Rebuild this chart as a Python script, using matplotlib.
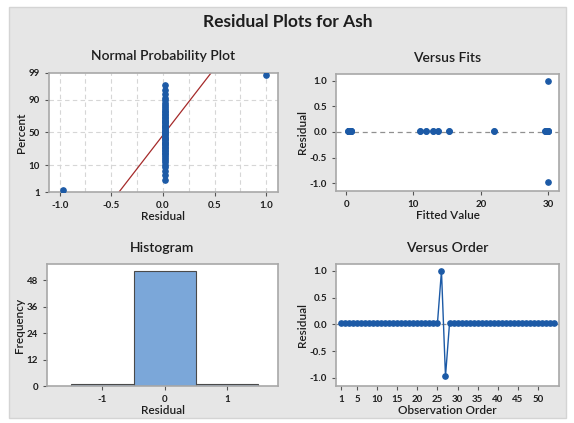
import numpy as np
import matplotlib
matplotlib.use("Agg")
import matplotlib.pyplot as plt
from matplotlib.patches import Rectangle
from statistics import NormalDist

plt.rcParams['font.family'] = ['Lato', 'DejaVu Sans']
plt.rcParams['axes.unicode_minus'] = False

# residuals in observation order (54 obs)
residuals = [0.02, 0.02, 0.02, 0.02, 0.02, 0.02, 0.02, 0.02, 0.02, 0.02,
             0.02, 0.02, 0.02, 0.02, 0.02, 0.02, 0.02, 0.02, 0.02, 0.02,
             0.02, 0.02, 0.02, 0.02, 0.02, 1.00, -0.97, 0.02, 0.02, 0.02,
             0.02, 0.02, 0.02, 0.02, 0.02, 0.02, 0.02, 0.02, 0.02, 0.02,
             0.02, 0.02, 0.02, 0.02, 0.02, 0.02, 0.02, 0.02, 0.02, 0.02,
             0.02, 0.02, 0.02, 0.02]
fitted = [0.4, 0.5, 0.6, 0.3, 0.7, 0.5, 0.8, 0.4, 0.6, 0.5,
          11.0, 11.9, 12.9, 13.6, 15.3, 22.0, 29.5, 29.8, 30.0, 29.7,
          29.9, 29.6, 30.0, 29.8, 29.9, 30.0, 30.0, 0.5, 0.4, 0.6,
          0.7, 0.3, 0.5, 0.6, 0.4, 0.8, 0.5, 0.6, 11.0, 11.9,
          12.9, 13.6, 15.3, 22.0, 29.5, 29.8, 29.9, 29.7, 0.5, 0.6,
          0.4, 0.7, 0.5, 0.6]
hist_bins = [-1, 0, 1]
hist_counts = [1, 52, 1]

blue = '#1c5aa6'
spine_c = '#a8a8a8'
txt_c = '#1e1e1e'

W, H = 574, 423
fig = plt.figure(figsize=(W / 100, H / 100), dpi=100)
fig.patch.set_facecolor('white')
fig.patches.append(Rectangle((9 / W, 1 - 418 / H), 557 / W, 411 / H, transform=fig.transFigure,
                             facecolor='#e6e6e6', edgecolor='#d4d4d4', lw=1, zorder=-10))

def box(l, t, r, b):
    return [l / W, 1 - b / H, (r - l) / W, (b - t) / H]

def style(ax):
    for s in ax.spines.values():
        s.set_color(spine_c)
        s.set_linewidth(1.2)
    ax.tick_params(colors='#555555', labelcolor=txt_c, labelsize=7, length=3, width=0.8, direction='out')
    for lab in ax.get_xticklabels() + ax.get_yticklabels():
        lab.set_fontweight('bold')

def label(ax, title, xl, yl):
    ax.set_title(title, fontsize=10, color=txt_c, pad=9, fontweight='semibold')
    ax.set_xlabel(xl, fontsize=8.5, color=txt_c, labelpad=1, fontweight='semibold')
    ax.set_ylabel(yl, fontsize=8.5, color=txt_c, labelpad=1, fontweight='semibold')

fig.text(288 / W, 1 - 22 / H, 'Residual Plots for Ash', ha='center', va='center',
         fontsize=12.5, color=txt_c, fontweight='bold')

nd = NormalDist()
r = np.array(residuals)
n = len(r)

# Normal probability plot
ax1 = fig.add_axes(box(49, 73, 278, 192))
xs = np.sort(r)
pp = (np.arange(1, n + 1) - 0.3) / (n + 0.4)
zs = [nd.inv_cdf(p) for p in pp]
mu, sd = r.mean(), r.std(ddof=1)
lx = np.array([-1.2, 1.2])
ax1.plot(lx, (lx - mu) / sd, color='#a52a2a', lw=0.9, zorder=2)
ax1.plot(xs, zs, 'o', color=blue, ms=3.8, zorder=3)
pticks = [1, 10, 50, 90, 99]
ax1.set_yticks([nd.inv_cdf(p / 100) for p in pticks])
ax1.set_yticklabels([str(p) for p in pticks])
ax1.set_ylim(nd.inv_cdf(0.01), nd.inv_cdf(0.99))
ax1.set_xlim(-1.103, 1.113)
ax1.set_xticks([-1.0, -0.5, 0.0, 0.5, 1.0])
ax1.set_xticklabels(['-1.0', '-0.5', '0.0', '0.5', '1.0'])
for gx in np.arange(-1.0, 1.01, 0.25):
    ax1.axvline(gx, color='#d6d6d6', ls=(0, (4, 3)), lw=0.8, zorder=1)
for p in [10, 50, 90]:
    ax1.axhline(nd.inv_cdf(p / 100), color='#d6d6d6', ls=(0, (4, 3)), lw=0.8, zorder=1)
style(ax1)
label(ax1, 'Normal Probability Plot', 'Residual', 'Percent')

# Versus fits
ax2 = fig.add_axes(box(336, 74, 559, 191))
ax2.axhline(0, color='#909090', ls=(0, (4, 3)), lw=0.9, zorder=1)
ax2.plot(fitted, residuals, 'o', color=blue, ms=3.8, zorder=3)
ax2.set_xlim(-1.5, 31.6)
ax2.set_ylim(-1.15, 1.13)
ax2.set_xticks([0, 10, 20, 30])
ax2.set_yticks([-1.0, -0.5, 0.0, 0.5, 1.0])
style(ax2)
label(ax2, 'Versus Fits', 'Fitted Value', 'Residual')

# Histogram
ax3 = fig.add_axes(box(47, 264, 278, 386))
ax3.bar(hist_bins, hist_counts, width=1.0, color='#7ba7d9', edgecolor='#4a4a4a', lw=0.8)
ax3.set_xlim(-1.89, 1.82)
ax3.set_ylim(0, 55.3)
ax3.set_xticks([-1, 0, 1])
ax3.set_yticks([0, 12, 24, 36, 48])
style(ax3)
label(ax3, 'Histogram', 'Residual', 'Frequency')

# Versus order
ax4 = fig.add_axes(box(336, 264, 559, 386))
obs = np.arange(1, n + 1)
ax4.axhline(0, color='#909090', ls=(0, (4, 3)), lw=0.9, zorder=1)
ax4.plot(obs, residuals, '-o', color=blue, ms=3.8, lw=1.0, zorder=3)
ax4.set_xlim(-0.2, 55.2)
ax4.set_ylim(-1.15, 1.13)
ax4.set_xticks([1, 5, 10, 15, 20, 25, 30, 35, 40, 45, 50])
ax4.set_yticks([-1.0, -0.5, 0.0, 0.5, 1.0])
style(ax4)
label(ax4, 'Versus Order', 'Observation Order', 'Residual')

fig.savefig('out.png', dpi=100)
